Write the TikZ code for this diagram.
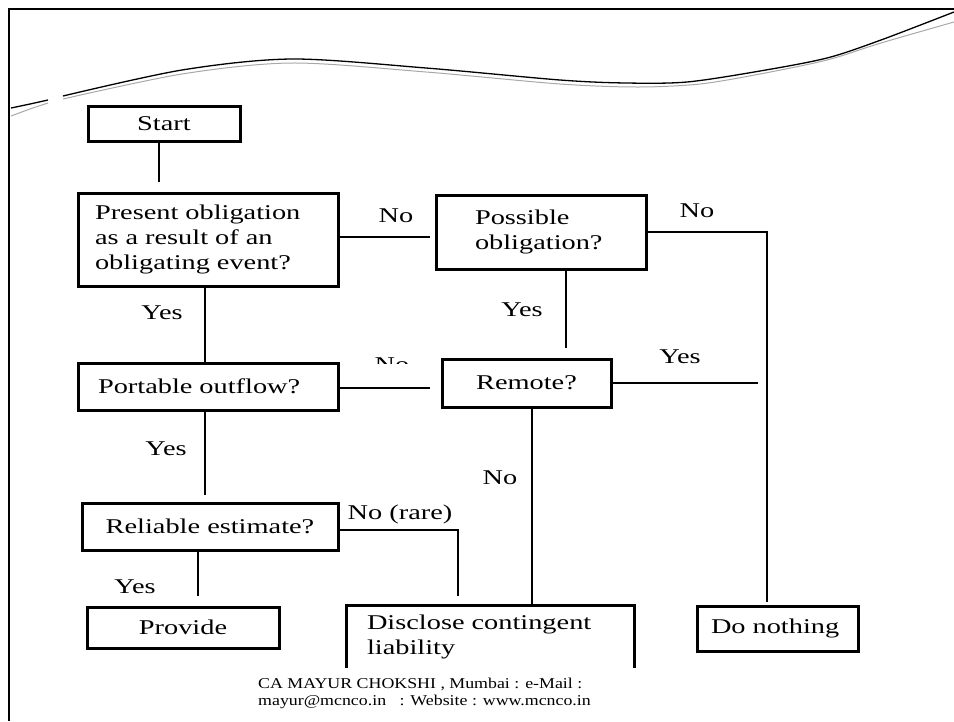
\documentclass[tikz,border=0pt]{standalone}
\usepackage{fontspec}
\setmainfont[FakeStretch=1.35]{Liberation Serif}
\newfontfamily\footfont[FakeStretch=1.19]{Liberation Serif}
\usepackage{tikz}
\usetikzlibrary{positioning, calc}
\definecolor{wavegray}{HTML}{A8A8A8}
\tikzset{
  box/.style={draw, line width=3pt, font=\fontsize{21}{25}\selectfont, inner ysep=0pt},
  flowlbl/.style={font=\fontsize{21}{25}\selectfont, inner sep=0pt},
  conn/.style={line width=2.6pt},
}

\begin{document}
\begin{tikzpicture}[x=1pt, y=-1pt]
  \useasboundingbox (0,0) rectangle (954,721);

  % Slide frame (left and top edge only)
  \draw[line width=2.8pt] (9,721) -- (9,9) -- (954,9);

  % Decorative wave across the top
  \draw[wavegray, line width=1pt] plot[smooth] coordinates {(11,116) (30,109) (48,103)};
  \draw[wavegray, line width=1pt] plot[smooth] coordinates {(63,99) (182,74) (292,63) (426,72) (560,84) (638,87) (700,84) (760,74) (827,60) (881,43) (954,22)};
  \draw[line width=1.3pt] plot[smooth] coordinates {(11,108) (30,104) (48,100)};
  \draw[line width=1.3pt] plot[smooth] coordinates {(63,96) (182,70) (292,59) (426,68) (560,80) (626,83) (687,82) (760,71) (827,58) (881,40) (954,12)};

  % Decision boxes - left column
  \node[box, minimum width=152pt, minimum height=35pt] (start) at (164,123.5) {Start};
  \node[box, minimum width=260pt, minimum height=93pt, text width=226pt, inner xsep=17pt, align=left] (present) at (208,239.5) {Present obligation\\as a result of an\\obligating event?};
  \node[box, minimum width=260pt, minimum height=47pt, text width=220pt, inner xsep=20pt, align=left] (portable) at (208,386.5) {Portable outflow?};
  \node[box, minimum width=256pt, minimum height=47pt] (reliable) at (210,526.5) {Reliable estimate?};
  \node[box, minimum width=192pt, minimum height=41pt] (provide) at (183,627.5) {Provide};

  % Decision boxes - middle and right
  \node[box, minimum width=210pt, minimum height=74pt, text width=132pt, inner xsep=39pt, align=left] (possible) at (541,232) {Possible\\obligation?};
  \node[box, minimum width=169pt, minimum height=48pt] (remote) at (526.5,383) {Remote?};
  \node[box, draw=none, minimum width=285pt, minimum height=59pt, text width=247pt, inner xsep=19pt, align=left] (disclose) at (490.5,636.5) {Disclose contingent\\liability};
  \draw[line width=3pt] (disclose.south west) -- (disclose.north west) -- (disclose.north east) -- (disclose.south east);
  \node[box, minimum width=161pt, minimum height=45pt, text width=133pt, inner xsep=14pt, align=left] (nothing) at (777.5,628.5) {Do nothing};

  % Free ends of the connectors
  \coordinate (startfoot) at (159,182);
  \coordinate (possgap) at (430,237);
  \coordinate (nocorner) at (767,232);
  \coordinate (nothingtop) at (767,602);
  \coordinate (remotetop) at (566,348);
  \coordinate (remotegap) at (430,388);
  \coordinate (yesend) at (758,383);
  \coordinate (remotedrop) at (532,0);
  \coordinate (relgap) at (205,495);
  \coordinate (rarecorner) at (458,530);
  \coordinate (rareend) at (458,596);
  \coordinate (provgap) at (198,596);

  % Connectors
  \draw[conn] (start.south -| startfoot) -- (startfoot);
  \draw[conn] (present.east |- possgap) -- (possgap);
  \draw[conn] (possible.east) -- (nocorner) -- (nothingtop);
  \draw[conn] (possible.south -| remotetop) -- (remotetop);
  \draw[conn] ([xshift=-3pt]present.south) -- ([xshift=-3pt]portable.north);
  \draw[conn] (portable.east |- remotegap) -- (remotegap);
  \draw[conn] (remote.east) -- (yesend);
  \draw[conn] (remote.south -| remotedrop) -- (disclose.north -| remotedrop);
  \draw[conn] (portable.south -| relgap) -- (relgap);
  \draw[conn] (reliable.east |- rarecorner) -- (rarecorner) -- (rareend);
  \draw[conn] (reliable.south -| provgap) -- (provgap);

  % Branch labels
  \foreach \lx/\ly/\ltxt [count=\i] in {396/216/No, 697/211/No, 522/310/Yes, 680/357/Yes, 500/478/No, 162/313/Yes, 166/449/Yes, 400/514/{No (rare)}, 135/587/Yes} {
    \node[flowlbl] (lbl\i) at (\lx,\ly) {\ltxt};
  }

  % Label cut off by the Remote box
  \begin{scope}
    \clip (360,340) rectangle (430,363);
    \node[flowlbl, anchor=base] (clipno) at (392,371) {No};
  \end{scope}

  % Footer
  \node[font=\footfont\fontsize{15}{17}\selectfont, align=left, anchor=north west, inner sep=0pt] (footer) at (258,678) {CA MAYUR CHOKSHI , Mumbai : e-Mail :\\mayur@mcnco.in \ \ : Website : www.mcnco.in};
\end{tikzpicture}
\end{document}
